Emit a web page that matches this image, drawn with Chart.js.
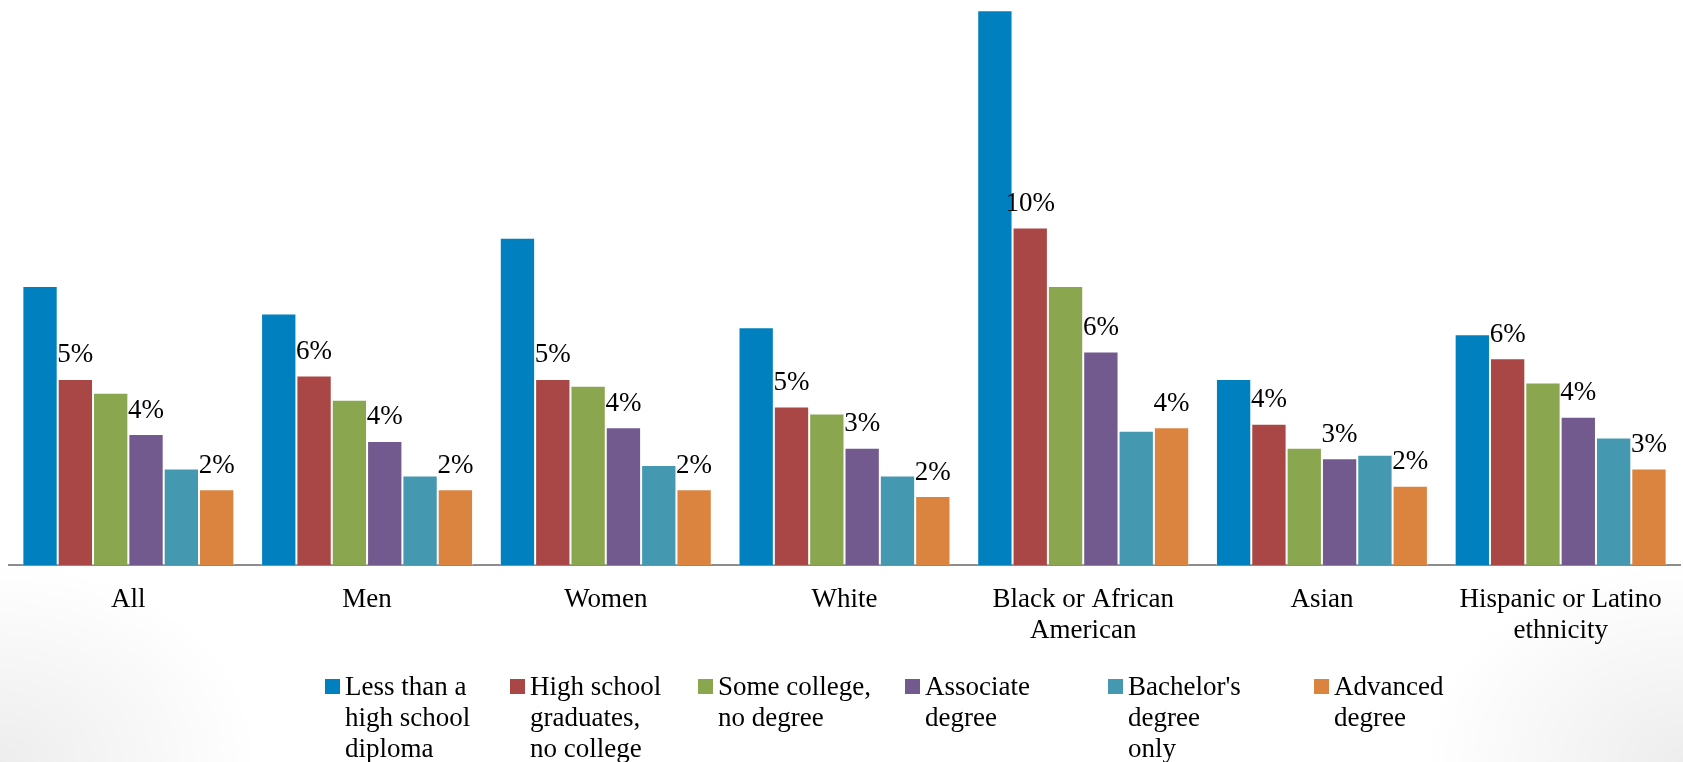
<!DOCTYPE html>
<html>
<head>
<meta charset="utf-8">
<script src="https://cdn.jsdelivr.net/npm/chart.js@4/dist/chart.umd.min.js"></script>
<style>
  html, body { margin: 0; padding: 0; }
  body {
    width: 1683px; height: 762px; overflow: hidden;
    background:
      radial-gradient(ellipse 260px 200px at 0 762px, rgba(0,0,0,0.07), rgba(0,0,0,0) 100%),
      radial-gradient(ellipse 260px 200px at 1683px 762px, rgba(0,0,0,0.07), rgba(0,0,0,0) 100%),
      #fff;
  }
  #wrap { position: relative; width: 1683px; height: 762px; }
</style>
</head>
<body>
<div id="wrap"><canvas id="myChart" width="1683" height="762"></canvas></div>
<script>
// Unemployment rate by educational attainment, grouped by population

const categories = ["All", "Men", "Women", "White", ["Black or African", "American"], "Asian", ["Hispanic or Latino", "ethnicity"]]

const seriesNames = [
  ["Less than a", "high school", "diploma"],
  ["High school", "graduates,", "no college"],
  ["Some college,", "no degree"],
  ["Associate", "degree"],
  ["Bachelor's", "degree", "only"],
  ["Advanced", "degree"]
]

const lessThanHS   = [8.1, 7.3, 9.5, 6.9, 16.1, 5.4, 6.7]
const highSchool   = [5.4, 5.5, 5.4, 4.6, 9.8, 4.1, 6.0]
const someCollege  = [5.0, 4.8, 5.2, 4.4, 8.1, 3.4, 5.3]
const associate    = [3.8, 3.6, 4.0, 3.4, 6.2, 3.1, 4.3]
const bachelors    = [2.8, 2.6, 2.9, 2.6, 3.9, 3.2, 3.7]
const advanced     = [2.2, 2.2, 2.2, 2.0, 4.0, 2.3, 2.8]

const colors = ['#0080BE', '#A84745', '#8AA64F', '#725A8F', '#4499B1', '#DB8440']
const labelledSeries = [1, 3, 5]

const font = "'Liberation Serif', 'Times New Roman', serif"

const series = [lessThanHS, highSchool, someCollege, associate, bachelors, advanced]

const data = {
  labels: categories,
  datasets: series.map((values, i) => ({
    label: seriesNames[i].join(' '),
    data: values,
    backgroundColor: colors[i],
    borderColor: 'rgba(255,255,255,0.45)',
    borderWidth: 1,
    borderSkipped: 'bottom',
    categoryPercentage: 0.888,
    barPercentage: 1
  }))
}

// percent labels above some of the bars
const barLabels = {
  id: 'barLabels',
  afterDatasetsDraw(chart) {
    const ctx = chart.ctx
    ctx.save()
    ctx.font = "27px " + font
    ctx.fillStyle = '#000'
    ctx.textAlign = 'center'
    ctx.textBaseline = 'alphabetic'
    labelledSeries.forEach(d => {
      const meta = chart.getDatasetMeta(d)
      meta.data.forEach((bar, i) => {
        const v = chart.data.datasets[d].data[i]
        ctx.fillText(Math.round(v) + '%', bar.x, bar.y - 16.5)
      })
    })
    ctx.restore()
  }
}

// legend with wrapped item text
const wrappedLegend = {
  id: 'wrappedLegend',
  afterDraw(chart, args, opts) {
    const ctx = chart.ctx
    ctx.save()
    ctx.font = "27px " + font
    ctx.textAlign = 'left'
    ctx.textBaseline = 'alphabetic'
    seriesNames.forEach((lines, i) => {
      const x = opts.columns[i]
      ctx.fillStyle = colors[i]
      ctx.fillRect(x, opts.top, 15, 15)
      ctx.fillStyle = '#000'
      lines.forEach((line, j) => {
        ctx.fillText(line, x + 20, opts.baseline + j * opts.lineHeight)
      })
    })
    ctx.restore()
  }
}

const options = {
  responsive: false,
  animation: false,
  layout: { padding: { left: 9, right: 3, top: 0, bottom: 0 } },
  plugins: {
    legend: { display: false },
    tooltip: { enabled: false },
    wrappedLegend: {
      columns: [325, 510, 698, 905, 1108, 1314],
      top: 679,
      baseline: 695,
      lineHeight: 31
    }
  },
  scales: {
    x: {
      grid: { display: false, drawTicks: false },
      border: { display: true, color: '#8C8C8C', width: 2 },
      ticks: {
        color: '#000',
        font: { family: font, size: 27, lineHeight: 1.15 },
        padding: 19,
        maxRotation: 0,
        autoSkip: false
      },
      afterFit(scale) { scale.height = 197 }
    },
    y: {
      display: false,
      min: 0,
      max: 16.4
    }
  }
}

const config = {
  type: 'bar',
  data: data,
  options: options,
  plugins: [barLabels, wrappedLegend]
}

const chart = new Chart(document.querySelector('#myChart'), config)
</script>
</body>
</html>
